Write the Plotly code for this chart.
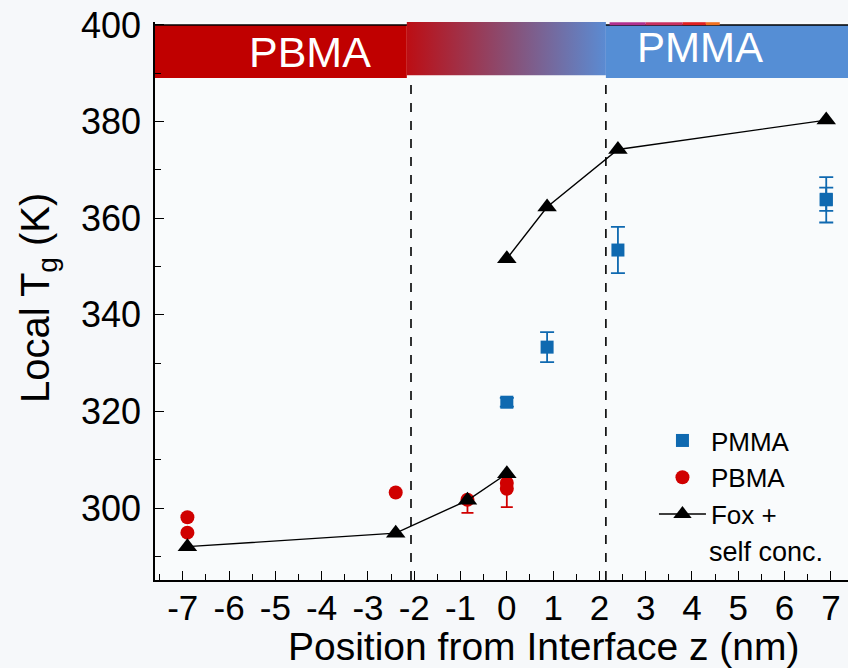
import plotly.graph_objects as go

# ---------------- data ----------------
fox_z = [-6.9, -2.4, -0.85, 0.0, None, 0.0, 0.87, 2.4, 6.9]
fox_tg = [292.0, 294.8, 301.6, 307.1, None, 351.6, 362.3, 374.2, 380.3]

pmma_z = [0.0, 0.87, 2.4, 6.9, 6.9]
pmma_tg = [321.9, 333.3, 353.4, 363.8, 363.9]
pmma_err = [0.9, 3.1, 4.8, 4.7, 2.4]

pbma_z = [-6.9, -6.9, -2.4, -0.85, 0.0, 0.0]
pbma_tg = [298.1, 294.9, 303.2, 301.7, 305.2, 304.0]
pbma_err_up = [0.0, 0.0, 0.0, 0.0, 0.0, 0.0]
pbma_err_down = [0.0, 0.0, 0.0, 2.7, 0.0, 3.8]

x_ticks = [-7, -6, -5, -4, -3, -2, -1, 0, 1, 2, 3, 4, 5, 6, 7]
x_tick_text = ["-7", "-6", "-5", "-4", "-3", "-2", "-1", "0", "1", "2", "3", "4", "5", "6", "7"]
y_ticks = [300, 320, 340, 360, 380, 400]

# region boundaries of the interface (nm) and band extent (K)
left_boundary = -2.07
right_boundary = 2.14
grad_start = -2.16
band_bottom = 389.0
band_top = 400.0

X_RANGE = [-7.60, 7.37]
Y_RANGE = [285.1, 400.6]

FONT = "Liberation Sans, Arial, sans-serif"
RED = "#C00000"
BLUE_BAND = "#558ED5"
MARK_BLUE = "#0F69B0"
MARK_RED = "#D00000"

fig = go.Figure()

# gradient section of the top band
fig.add_trace(go.Scatter(
    x=[grad_start, right_boundary, right_boundary, grad_start, grad_start],
    y=[band_bottom + 0.6, band_bottom + 0.6, Y_RANGE[1], Y_RANGE[1], band_bottom + 0.6],
    mode="lines", line=dict(width=0), fill="toself",
    fillgradient=dict(type="horizontal",
                      colorscale=[[0, "#BC0E14"], [0.5, "#8A4D72"], [1, "#5B8BD2"]]),
    hoverinfo="skip", showlegend=False))

# data traces
fig.add_trace(go.Scatter(
    x=pmma_z, y=pmma_tg, mode="markers", name="PMMA",
    marker=dict(symbol="square", size=13, color=MARK_BLUE),
    error_y=dict(type="data", array=pmma_err, color=MARK_BLUE, thickness=1.8, width=7)))

fig.add_trace(go.Scatter(
    x=pbma_z, y=pbma_tg, mode="markers", name="PBMA",
    marker=dict(symbol="circle", size=14, color=MARK_RED),
    error_y=dict(type="data", symmetric=False, array=pbma_err_up, arrayminus=pbma_err_down,
                 color=MARK_RED, thickness=1.8, width=6)))

fig.add_trace(go.Scatter(
    x=fox_z, y=fox_tg, mode="lines+markers", name="Fox +",
    line=dict(color="black", width=1.4),
    marker=dict(symbol="triangle-up", size=17, color="black"),
    connectgaps=False))

shapes = []
shapes.append(dict(type="rect", xref="x", yref="y", x0=X_RANGE[0], x1=grad_start,
                   y0=band_bottom, y1=band_top, fillcolor=RED, line=dict(width=0), layer="below"))
shapes.append(dict(type="rect", xref="x", yref="y", x0=right_boundary, x1=X_RANGE[1],
                   y0=band_bottom, y1=band_top, fillcolor=BLUE_BAND, line=dict(width=0), layer="below"))
shapes.append(dict(type="line", xref="x", yref="y", x0=X_RANGE[0], x1=X_RANGE[1],
                   y0=band_top, y1=band_top, line=dict(color="black", width=1.5), layer="below"))
for xa, xb, c in [(2.22, 3.0, "#B0308F"), (3.0, 3.8, "#C83060"), (3.8, 4.3, "#E02020"), (4.3, 4.6, "#F07020")]:
    shapes.append(dict(type="line", xref="x", yref="y", x0=xa, x1=xb, y0=400.25, y1=400.25,
                       line=dict(color=c, width=3), layer="above"))
for xb in (left_boundary, right_boundary):
    shapes.append(dict(type="line", xref="x", yref="y", x0=xb, x1=xb, y0=Y_RANGE[0], y1=band_bottom,
                       line=dict(color="black", width=1.6, dash="dash"), layer="above"))

annotations = [
    dict(x=-4.25, y=(band_bottom + band_top) / 2 - 0.1, xref="x", yref="y",
         text="PBMA", showarrow=False, font=dict(family=FONT, size=43, color="white")),
    dict(x=4.17, y=(band_bottom + band_top) / 2 + 0.8, xref="x", yref="y",
         text="PMMA", showarrow=False, font=dict(family=FONT, size=42, color="white")),
    dict(x=0.561, y=-0.119, xref="paper", yref="paper", text="Position from Interface z (nm)",
         showarrow=False, xanchor="center", yanchor="middle",
         font=dict(family=FONT, size=39, color="black")),
    dict(x=-0.169, y=0.505, xref="paper", yref="paper", text="Local T<sub>g</sub> (K)",
         textangle=-90, showarrow=False, xanchor="center", yanchor="middle",
         font=dict(family=FONT, size=40, color="black")),
    dict(x=0.796, y=0.05, xref="paper", yref="paper", text="self conc.",
         showarrow=False, xanchor="left", yanchor="middle",
         font=dict(family=FONT, size=27, color="black")),
]

fig.update_layout(
    width=848, height=668,
    margin=dict(l=155, r=0, t=22, b=88, autoexpand=False),
    paper_bgcolor="#F6F8FA", plot_bgcolor="#F9FBFC",
    font=dict(family=FONT, color="black"),
    shapes=shapes, annotations=annotations,
    showlegend=True,
    legend=dict(x=0.72, y=0.292, xanchor="left", yanchor="top",
                bgcolor="rgba(0,0,0,0)", font=dict(family=FONT, size=26, color="black"),
                itemwidth=47, tracegroupgap=0),
    xaxis=dict(range=X_RANGE, tickvals=x_ticks, ticktext=x_tick_text, automargin=False,
               showgrid=False, zeroline=False, showline=True, linecolor="black", linewidth=1.6,
               ticks="inside", ticklen=9, tickwidth=1.3, tickcolor="black",
               ticklabelstandoff=-4,
               tickfont=dict(family=FONT, size=35, color="black"),
               minor=dict(dtick=0.5, tick0=0, ticks="inside", ticklen=6, tickwidth=1.2, tickcolor="black")),
    yaxis=dict(range=Y_RANGE, tickvals=y_ticks, automargin=False,
               showgrid=False, zeroline=False, showline=True, linecolor="black", linewidth=1.6,
               ticks="inside", ticklen=9, tickwidth=1.3, tickcolor="black",
               ticklabelstandoff=5,
               tickfont=dict(family=FONT, size=36, color="black"),
               minor=dict(dtick=10, tick0=0, ticks="inside", ticklen=6, tickwidth=1.2, tickcolor="black")),
)

fig.write_html("out.html", config={"displayModeBar": False},
               post_script="document.body.style.margin='0px';document.body.style.overflow='hidden';")
